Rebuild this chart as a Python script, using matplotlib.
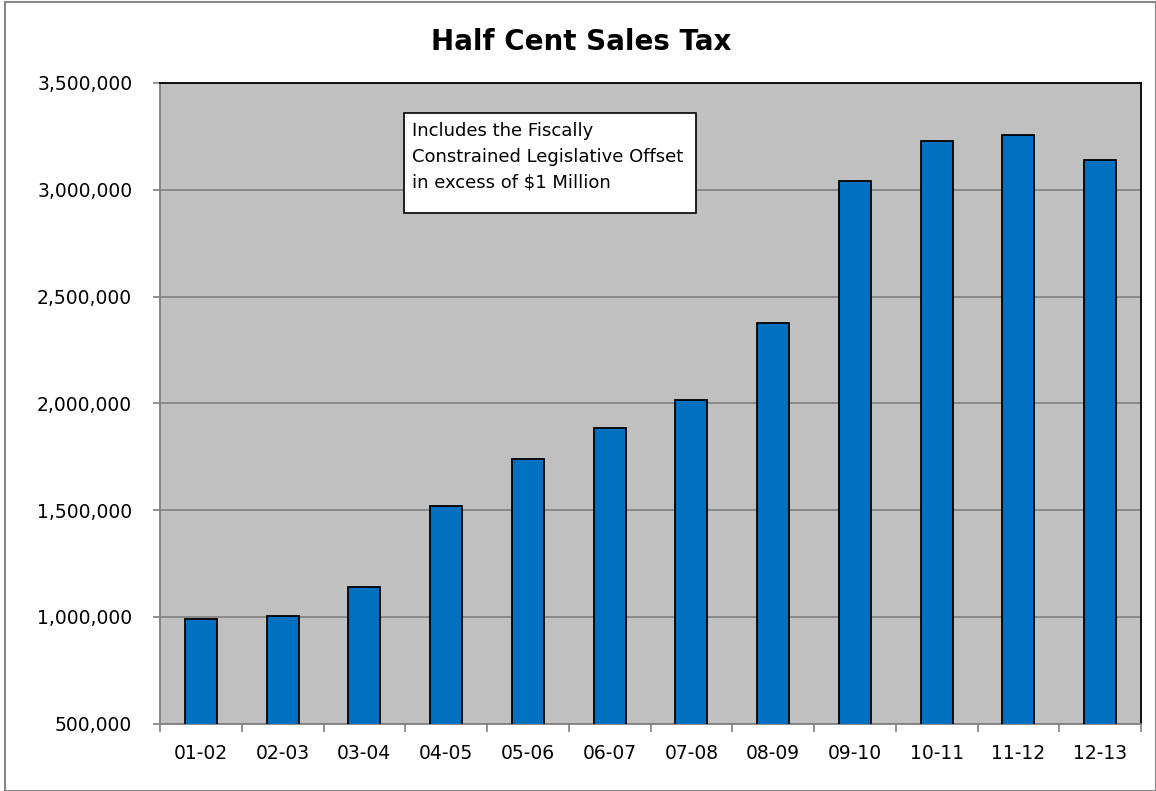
import numpy as np
import matplotlib
matplotlib.use("Agg")
import matplotlib.pyplot as plt
from matplotlib.patches import Rectangle
from matplotlib.ticker import FuncFormatter

# data
years = ['01-02', '02-03', '03-04', '04-05', '05-06', '06-07',
         '07-08', '08-09', '09-10', '10-11', '11-12', '12-13']
tax = [991000, 1005000, 1141000, 1520000, 1741000, 1886000,
       2017000, 2378000, 3042000, 3227000, 3258000, 3138000]
y_ticks = [500000, 1000000, 1500000, 2000000, 2500000, 3000000, 3500000]
note_lines = ['Includes the Fiscally', 'Constrained Legislative Offset',
              'in excess of $1 Million']

plt.rcParams['font.family'] = 'DejaVu Sans'

W, H = 1156, 791
fig = plt.figure(figsize=(W / 100, H / 100), dpi=100)
ax = fig.add_axes([160 / W, 1 - 723.5 / H, (1141 - 160) / W, (723.5 - 83) / H])

x = np.arange(len(years))
ax.bar(x, tax, width=0.39, color='#0070C0', edgecolor='black', linewidth=1.3, zorder=3)

ax.set_facecolor('#C0C0C0')
ax.set_xlim(-0.5, len(years) - 0.5)
ax.set_ylim(500000, 3500000)
ax.set_yticks(y_ticks)
ax.yaxis.set_major_formatter(FuncFormatter(lambda v, p: f'{int(v):,}'))
ax.grid(axis='y', color='#808080', linewidth=1.2, zorder=1)

# category labels under bars, tick marks between categories
ax.set_xticks(x)
ax.set_xticklabels(years)
ax.set_xticks(np.arange(-0.5, len(years)), minor=True)
ax.tick_params(axis='x', which='major', length=0, pad=15, labelsize=13.5, colors='black')
ax.tick_params(axis='x', which='minor', length=6, color='#808080', width=1.2)
ax.tick_params(axis='y', length=5, color='#808080', width=1.2, pad=15, labelsize=13.5)

ax.spines['left'].set_color('#808080')
ax.spines['bottom'].set_color('#808080')
ax.spines['top'].set_color('black')
ax.spines['right'].set_color('black')
for s in ax.spines.values():
    s.set_linewidth(1.3)

fig.text(0.503, 1 - 42 / H, 'Half Cent Sales Tax', ha='center', va='center',
         fontsize=20, fontweight='bold')

# note box (figure pixel positions)
fig.patches.append(Rectangle((404 / W, 1 - 213 / H), (696 - 404) / W, (213 - 113) / H,
                             transform=fig.transFigure, facecolor='white',
                             edgecolor='black', linewidth=1.2, zorder=5))
for i, line in enumerate(note_lines):
    fig.text(412 / W, 1 - (131 + 25.5 * i) / H, line, ha='left', va='center',
             fontsize=13, zorder=6)

# outer chart border
fig.patches.append(Rectangle((5 / W, 0), 1 - 5 / W, 1 - 2 / H,
                             transform=fig.transFigure, fill=False,
                             edgecolor='#888888', linewidth=1.5))

fig.savefig('out.png', dpi=100)
